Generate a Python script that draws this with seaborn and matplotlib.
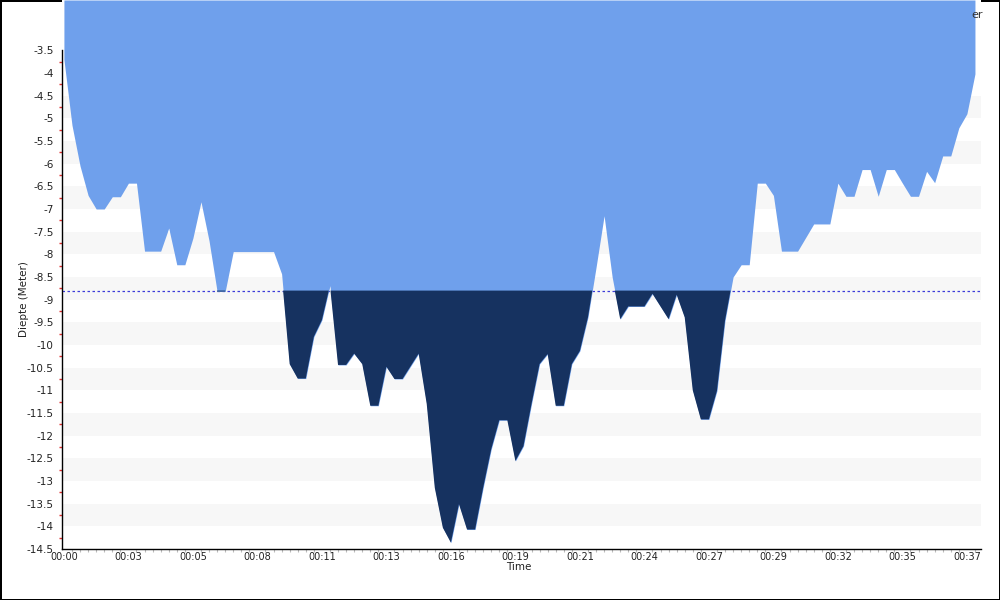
import numpy as np
import matplotlib
matplotlib.use('Agg')
import matplotlib.pyplot as plt
import seaborn as sns

# depth (m) sampled every 20 s
sample_sec = 20
depth = [-3.7, -5.15, -6.05, -6.7, -7.0, -7.0, -6.73, -6.73, -6.43, -6.43,
         -7.93, -7.93, -7.93, -7.42, -8.23, -8.23, -7.64, -6.84, -7.7, -8.82,
         -8.82, -7.94, -7.94, -7.94, -7.94, -7.94, -7.94, -8.43, -10.42, -10.74,
         -10.74, -9.82, -9.45, -8.69, -10.44, -10.44, -10.19, -10.42, -11.34, -11.34,
         -10.48, -10.75, -10.75, -10.47, -10.19, -11.3, -13.15, -14.03, -14.36, -13.51,
         -14.07, -14.07, -13.15, -12.3, -11.66, -11.66, -12.56, -12.23, -11.3, -10.42,
         -10.2, -11.34, -11.34, -10.42, -10.13, -9.39, -8.29, -7.15, -8.5, -9.43,
         -9.15, -9.15, -9.15, -8.87, -9.15, -9.43, -8.89, -9.39, -11.0, -11.64,
         -11.64, -11.01, -9.46, -8.5, -8.23, -8.23, -6.43, -6.43, -6.7, -7.93,
         -7.93, -7.93, -7.63, -7.33, -7.33, -7.33, -6.43, -6.72, -6.72, -6.13,
         -6.13, -6.72, -6.13, -6.13, -6.43, -6.72, -6.72, -6.17, -6.42, -5.83,
         -5.83, -5.21, -4.9, -4.02]

threshold = -8.8

x_tick_sec = [0, 160, 320, 480, 640, 800, 960, 1120, 1280, 1440, 1600, 1760, 1920, 2080, 2240]
x_tick_labels = ['00:00', '00:03', '00:05', '00:08', '00:11', '00:13', '00:16', '00:19',
                 '00:21', '00:24', '00:27', '00:29', '00:32', '00:35', '00:37']
y_ticks = [-3.5, -4, -4.5, -5, -5.5, -6, -6.5, -7, -7.5, -8, -8.5, -9, -9.5,
           -10, -10.5, -11, -11.5, -12, -12.5, -13, -13.5, -14, -14.5]
y_tick_labels = ['-3.5', '-4', '-4.5', '-5', '-5.5', '-6', '-6.5', '-7', '-7.5', '-8',
                 '-8.5', '-9', '-9.5', '-10', '-10.5', '-11', '-11.5', '-12', '-12.5',
                 '-13', '-13.5', '-14', '-14.5']

BLUE = '#6fa0ec'
NAVY = '#163260'


def main():
    sns.set_style('white')
    plt.rcParams['font.family'] = ['DejaVu Sans']

    t = np.array([i * sample_sec for i in range(len(depth))], dtype=float)
    d = np.array(depth)

    fig = plt.figure(figsize=(10, 6), dpi=100)
    fig.patch.set_edgecolor('black')
    fig.patch.set_linewidth(2)
    ax = fig.add_axes([0.0615, 51 / 600, 0.9195, 549 / 600])

    y_top = -2.39
    ax.set_ylim(-14.5, y_top)
    ax.set_xlim(-6, 2275)

    # alternating bands
    for lo in np.arange(-14.0, -4.0, 1.0):
        ax.axhspan(lo, lo + 0.5, color='#f7f7f7', zorder=0, lw=0)

    ax.axhline(threshold, color='#3c3cd8', lw=0.9, ls=(0, (2, 2)), zorder=1)

    ax.fill_between(t, d, y_top, color=BLUE, lw=0, zorder=2)
    ax.fill_between(t, d, threshold, where=d < threshold, interpolate=True,
                    color=NAVY, lw=0, zorder=3)

    sns.despine(ax=ax, top=True, right=True)
    ax.spines['left'].set_bounds(-14.5, -3.5)
    for s in ['left', 'bottom']:
        ax.spines[s].set_color('black')
        ax.spines[s].set_linewidth(1)
        ax.spines[s].set_zorder(5)

    ax.set_yticks(y_ticks)
    ax.set_yticklabels(y_tick_labels)
    ax.set_yticks([v - 0.25 for v in y_ticks[:-1]], minor=True)
    ax.set_xticks(x_tick_sec)
    ax.set_xticklabels(x_tick_labels)
    ax.set_xticks(list(range(0, 2261, 20)), minor=True)

    ax.tick_params(axis='y', which='major', direction='out', length=4, width=1,
                   color='#222222', labelsize=7.5, labelcolor='#222222', pad=1.5)
    ax.tick_params(axis='y', which='minor', direction='out', length=2, width=1,
                   color='#e03030', left=True)
    ax.tick_params(axis='x', which='major', direction='inout', length=5, width=1,
                   color='#222222', labelsize=7, labelcolor='#222222', pad=0)
    ax.tick_params(axis='x', which='minor', direction='out', length=2, width=0.8,
                   color='#bbbbbb', bottom=True)

    fig.text(0.024, 1 - 299 / 600, 'Diepte (Meter)', rotation=90, ha='center',
             va='center', fontsize=7.5, color='#222222')
    fig.text(0.519, 1 - 567 / 600, 'Time', ha='center', va='center',
             fontsize=7.5, color='#222222')
    fig.text(0.983, 1 - 15 / 600, 'er', ha='right', va='center',
             fontsize=8, color='#333333')

    fig.savefig('out.png', dpi=100)


if __name__ == '__main__':
    main()
